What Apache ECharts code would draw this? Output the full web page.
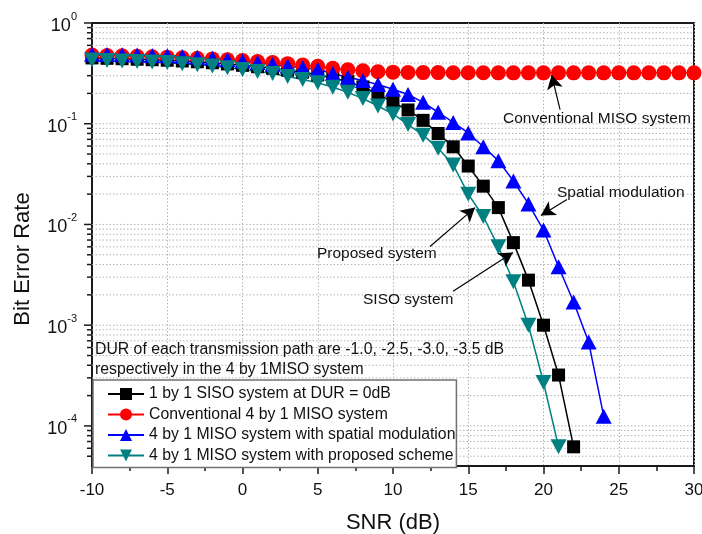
<!DOCTYPE html>
<html><head><meta charset="utf-8">
<script src="https://cdn.jsdelivr.net/npm/echarts@6/dist/echarts.min.js"></script>
<style>html,body{margin:0;padding:0;background:#fff}#c{width:702px;height:534px}</style>
</head><body><div id="c"></div>
<script>
const snr = [-10,-9,-8,-7,-6,-5,-4,-3,-2,-1,0,1,2,3,4,5,6,7,8,9,10,11,12,13,14,15,16,17,18,19,20,21,22,23,24,25,26,27,28,29,30];
const berSISO = [0.45,0.446,0.442,0.437,0.432,0.427,0.42,0.412,0.403,0.392,0.38,0.368,0.355,0.34,0.325,0.305,0.285,0.262,0.232,0.198,0.163,0.137,0.108,0.08,0.059,0.038,0.024,0.0147,0.0066,0.0028,0.001,0.00032,0.000062];
const berConvMISO = [0.48,0.476,0.472,0.468,0.463,0.458,0.452,0.446,0.44,0.432,0.424,0.415,0.405,0.395,0.383,0.372,0.355,0.343,0.335,0.328,0.325,0.323,0.322,0.322,0.321,0.321,0.321,0.32,0.32,0.32,0.32,0.32,0.32,0.32,0.32,0.32,0.32,0.32,0.32,0.32,0.32];
const berSpatial = [0.49,0.487,0.484,0.48,0.477,0.473,0.466,0.458,0.448,0.435,0.42,0.405,0.39,0.375,0.36,0.345,0.315,0.29,0.268,0.245,0.22,0.195,0.163,0.13,0.103,0.081,0.059,0.043,0.027,0.016,0.0088,0.0038,0.0017,0.00068,0.000125];
const berProposed = [0.43,0.425,0.42,0.415,0.41,0.405,0.395,0.385,0.375,0.36,0.345,0.33,0.315,0.295,0.275,0.255,0.23,0.205,0.178,0.15,0.125,0.098,0.077,0.057,0.039,0.02,0.012,0.006,0.0027,0.001,0.00027,0.000062];
const seriesNames = ['1 by 1 SISO system at DUR = 0dB','Conventional 4 by 1 MISO system','4 by 1 MISO system with spatial modulation','4 by 1 MISO system with proposed scheme'];
const yMajorTicks = [0.0001,0.001,0.01,0.1,1];
const yMinorTicks = [0.00005,0.00006,0.00007,0.00008,0.00009,0.0002,0.0003,0.0004,0.0005,0.0006,0.0007,0.0008,0.0009,0.002,0.003,0.004,0.005,0.006,0.007,0.008,0.009,0.02,0.03,0.04,0.05,0.06,0.07,0.08,0.09,0.2,0.3,0.4,0.5,0.6,0.7,0.8,0.9];
const annotationTexts = ['Conventional MISO system','Spatial modulation','Proposed system','SISO system'];
const durNote = ['DUR of each transmission path are -1.0, -2.5, -3.0, -3.5 dB','respectively in the 4 by 1MISO system'];
const xAxisTitle = 'SNR (dB)';
const yAxisTitle = 'Bit Error Rate';

const FONT = 'Arial, "Liberation Sans", sans-serif';
const XMIN = -10, XMAX = 30, YMIN = 0.00004, YMAX = 1;

function pairs(arr){ return arr.map((v,i)=>[snr[i], v]); }

const chart = echarts.init(document.getElementById('c'), null, {renderer:'canvas'});

function gridRender(params, api){
  const v = api.value(1);
  const major = api.value(2) === 1;
  const p0 = api.coord([XMIN, v]);
  const p1 = api.coord([XMAX, v]);
  const children = [];
  if (v > YMIN*1.001 && v < YMAX*0.999) {
    children.push({type:'line', shape:{x1:p0[0], y1:p0[1], x2:p1[0], y2:p1[1]},
      style:{stroke:'#b4b4b4', lineWidth:1, lineDash:[1.5,2]}, silent:true});
  }
  const len = major ? 8 : 5;
  children.push({type:'line', shape:{x1:p0[0]-len, y1:p0[1], x2:p0[0], y2:p0[1]},
    style:{stroke:'#1a1a1a', lineWidth:1.5}, silent:true});
  return {type:'group', children};
}

const tickData = yMajorTicks.map(v=>[XMIN, v, 1]).concat(yMinorTicks.map(v=>[XMIN, v, 0]));

const arrowLine = (from, to) => [{coord: from}, {coord: to}];

const option = {
  animation: false,
  backgroundColor: '#fff',
  grid: {left: 92, right: 8, top: 23, bottom: 68, containLabel: false, outerBoundsMode: 'none',
         show: true, borderColor: '#1a1a1a', borderWidth: 2, backgroundColor: 'transparent'},
  xAxis: {
    type: 'value', min: XMIN, max: XMAX, interval: 5,
    name: xAxisTitle, nameLocation: 'middle', nameGap: 46,
    nameTextStyle: {fontFamily: FONT, fontSize: 22, color: '#111'},
    axisLine: {show: true, onZero: false, lineStyle: {color: '#1a1a1a', width: 2}},
    axisTick: {show: true, inside: false, length: 8, lineStyle: {color: '#1a1a1a', width: 1.5}},
    minorTick: {show: true, splitNumber: 2, length: 5, lineStyle: {color: '#1a1a1a', width: 1.5}},
    axisLabel: {fontFamily: FONT, fontSize: 17, color: '#111', margin: 16},
    splitLine: {show: true, lineStyle: {color: '#b4b4b4', width: 1, type: [1.5,2]}}
  },
  yAxis: {
    type: 'log', min: YMIN, max: YMAX, logBase: 10,
    axisLine: {show: true, onZero: false, lineStyle: {color: '#1a1a1a', width: 2}},
    axisTick: {show: false},
    splitLine: {show: false},
    axisLabel: {
      margin: 15, color: '#111',
      formatter: function(v){
        const e = Math.log10(v);
        if (Math.abs(e - Math.round(e)) > 1e-6) return '';
        return '{b|10}{s|' + Math.round(e) + '}';
      },
      rich: {
        b: {fontFamily: FONT, fontSize: 18, color: '#111', lineHeight: 24, verticalAlign: 'bottom'},
        s: {fontFamily: FONT, fontSize: 11, color: '#111', lineHeight: 24, verticalAlign: 'top', padding: [0,0,9,0]}
      }
    }
  },
  legend: {
    orient: 'vertical', left: 93, top: 380,
    itemWidth: 36, itemHeight: 15, itemGap: 4.5,
    padding: [6, 1, 4, 14],
    backgroundColor: '#fff', borderColor: '#707070', borderWidth: 1.5,
    textStyle: {fontFamily: FONT, fontSize: 15.8, color: '#111'},
    data: seriesNames
  },
  graphic: [
    {type:'text', x:23, y:259, rotation: Math.PI/2, z:50, style:{text: yAxisTitle, font: '22px ' + FONT, fill:'#111', align:'center', verticalAlign:'middle'}},
    {type:'text', x:503, y:119, z:50, style:{text: annotationTexts[0], font: '15.5px ' + FONT, fill:'#111', verticalAlign:'middle'}},
    {type:'text', x:557, y:193, z:50, style:{text: annotationTexts[1], font: '15.5px ' + FONT, fill:'#111', verticalAlign:'middle'}},
    {type:'text', x:317, y:254, z:50, style:{text: annotationTexts[2], font: '15.5px ' + FONT, fill:'#111', verticalAlign:'middle'}},
    {type:'text', x:363, y:300, z:50, style:{text: annotationTexts[3], font: '15.5px ' + FONT, fill:'#111', verticalAlign:'middle'}},
    {type:'text', x:95, y:350, z:50, style:{text: durNote[0], font: '15.8px ' + FONT, fill:'#111', verticalAlign:'middle'}},
    {type:'text', x:95, y:370, z:50, style:{text: durNote[1], font: '15.8px ' + FONT, fill:'#111', verticalAlign:'middle'}}
  ],
  series: [
    {type:'custom', name:'grid', renderItem: gridRender, data: tickData, z: 1, silent: true, clip: false,
     encode: {x: 0, y: 1}},
    {name: seriesNames[0], type:'line', data: pairs(berSISO), z: 3,
     symbol:'rect', symbolSize: 13, lineStyle:{color:'#000', width:1.5}, itemStyle:{color:'#000'}},
    {name: seriesNames[1], type:'line', data: pairs(berConvMISO), z: 3,
     symbol:'circle', symbolSize: 15, lineStyle:{color:'#ff0000', width:1.5}, itemStyle:{color:'#ff0000'}},
    {name: seriesNames[2], type:'line', data: pairs(berSpatial), z: 3,
     symbol:'triangle', symbolSize: [16,15], lineStyle:{color:'#0000ff', width:1.5}, itemStyle:{color:'#0000ff'}},
    {name: seriesNames[3], type:'line', data: pairs(berProposed), z: 3,
     symbol:'triangle', symbolRotate: 180, symbolSize: [16,15], lineStyle:{color:'#008080', width:1.5}, itemStyle:{color:'#008080'},
     markLine: {
       silent: true, symbol: ['none','arrow'], symbolSize: [12, 14], precision: 10,
       label: {show: false},
       lineStyle: {color:'#000', width: 1.2, type:'solid'},
       emphasis: {disabled: true},
       data: [
         arrowLine([21.1, 0.138], [20.54, 0.305]),
         arrowLine([21.56, 0.0177], [19.83, 0.0123]),
         arrowLine([12.46, 0.00605], [15.45, 0.0147]),
         arrowLine([13.99, 0.00217], [17.97, 0.00528])
       ]
     }}
  ]
};
chart.setOption(option);
</script></body></html>
